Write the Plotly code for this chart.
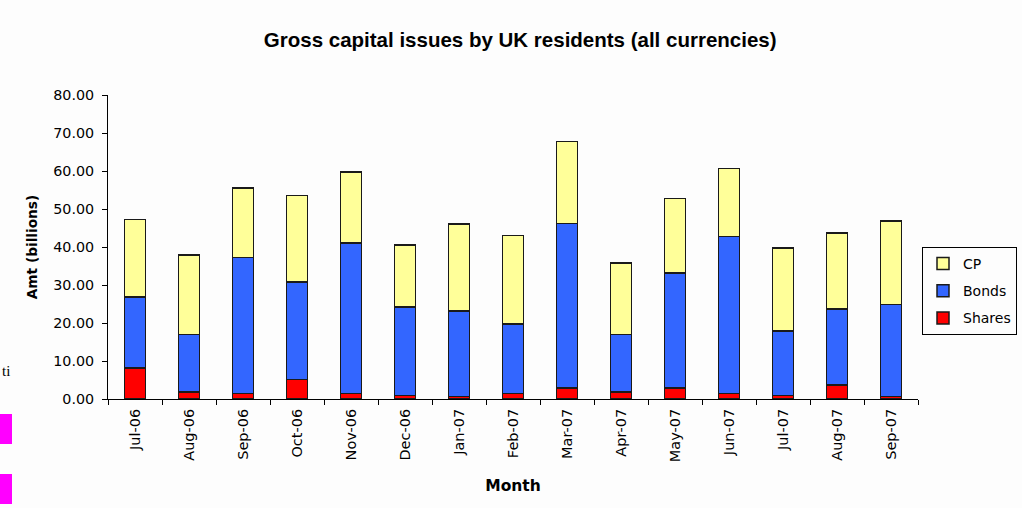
import plotly.graph_objects as go

months = ["Jul-06", "Aug-06", "Sep-06", "Oct-06", "Nov-06", "Dec-06", "Jan-07", "Feb-07",
          "Mar-07", "Apr-07", "May-07", "Jun-07", "Jul-07", "Aug-07", "Sep-07"]
shares = [8.1, 1.8, 1.4, 5.1, 1.4, 0.9, 0.6, 1.4, 2.9, 1.8, 2.9, 1.4, 0.9, 3.7, 0.6]
bonds = [18.8, 15.2, 35.8, 25.7, 39.7, 23.3, 22.5, 18.4, 43.3, 15.2, 30.3, 41.3, 17.0, 20.0, 24.3]
cp = [20.4, 20.9, 18.3, 22.7, 18.7, 16.3, 22.9, 23.2, 21.6, 18.8, 19.6, 17.9, 21.9, 20.0, 22.0]

font_family = "DejaVu Sans, Verdana, sans-serif"
title_family = "Arial, Liberation Sans, sans-serif"
edge = dict(color="#1a1a1a", width=1.5)

fig = go.Figure()
fig.add_trace(go.Bar(x=months, y=shares, name="Shares", marker=dict(color="#FF0000", line=edge),
                     legendgroup="s", legendrank=3))
fig.add_trace(go.Bar(x=months, y=bonds, name="Bonds", marker=dict(color="#3366FF", line=edge),
                     legendgroup="b", legendrank=2))
fig.add_trace(go.Bar(x=months, y=cp, name="CP", marker=dict(color="#FFFF99", line=edge),
                     legendgroup="c", legendrank=1))

fig.update_layout(
    width=1022, height=508,
    barmode="stack", bargap=0.61,
    paper_bgcolor="#fdfdfd", plot_bgcolor="#fdfdfd",
    margin=dict(l=108, r=104, t=95, b=109, autoexpand=False),
    font=dict(family=font_family, color="#000000", size=14),
    title=dict(text="<b>Gross capital issues by UK residents (all currencies)</b>",
               x=0.509, xanchor="center", y=1 - 40 / 508, yanchor="middle", yref="container",
               font=dict(family=title_family, size=20.5)),
    legend=dict(x=(1017 - 108) / 810, xanchor="right", y=0.5, yanchor="top",
                traceorder="grouped", tracegroupgap=6, itemwidth=30,
                bordercolor="#000000", borderwidth=1, bgcolor="#fdfdfd",
                font=dict(size=14)),
    showlegend=True,
)
fig.update_xaxes(
    showline=True, linecolor="#000000", linewidth=1,
    ticks="outside", tickson="boundaries", ticklen=5, tickcolor="#000000",
    tickangle=-90, tickfont=dict(size=14.5), ticklabelstandoff=3,
    title=dict(text="<b>Month</b>", font=dict(size=15.5), standoff=18),
    showgrid=False,
)
fig.update_yaxes(
    range=[0, 80], dtick=10, tickformat=".2f",
    showline=True, linecolor="#000000", linewidth=1,
    ticks="outside", ticklen=5, tickcolor="#000000",
    tickfont=dict(size=14.3), ticklabelstandoff=5,
    title=dict(text="<b>Amt (billions)</b>", font=dict(size=13.7), standoff=12),
    showgrid=False, zeroline=False,
)

# page artifacts at the left edge of the screenshot
fig.add_shape(type="rect", xref="paper", yref="paper", x0=-108 / 810, x1=-96 / 810,
              y0=-(444 - 399) / 304, y1=-(414 - 399) / 304, fillcolor="#FF00FF", line_width=0)
fig.add_shape(type="rect", xref="paper", yref="paper", x0=-108 / 810, x1=-96 / 810,
              y0=-(504 - 399) / 304, y1=-(474 - 399) / 304, fillcolor="#FF00FF", line_width=0)
fig.add_annotation(text="ti", xref="paper", yref="paper", x=-107 / 810, y=(399 - 371) / 304,
                   xanchor="left", yanchor="middle", showarrow=False, borderpad=0,
                   font=dict(family="Liberation Serif, Times New Roman, serif", size=15))

fig.write_html("out.html")
